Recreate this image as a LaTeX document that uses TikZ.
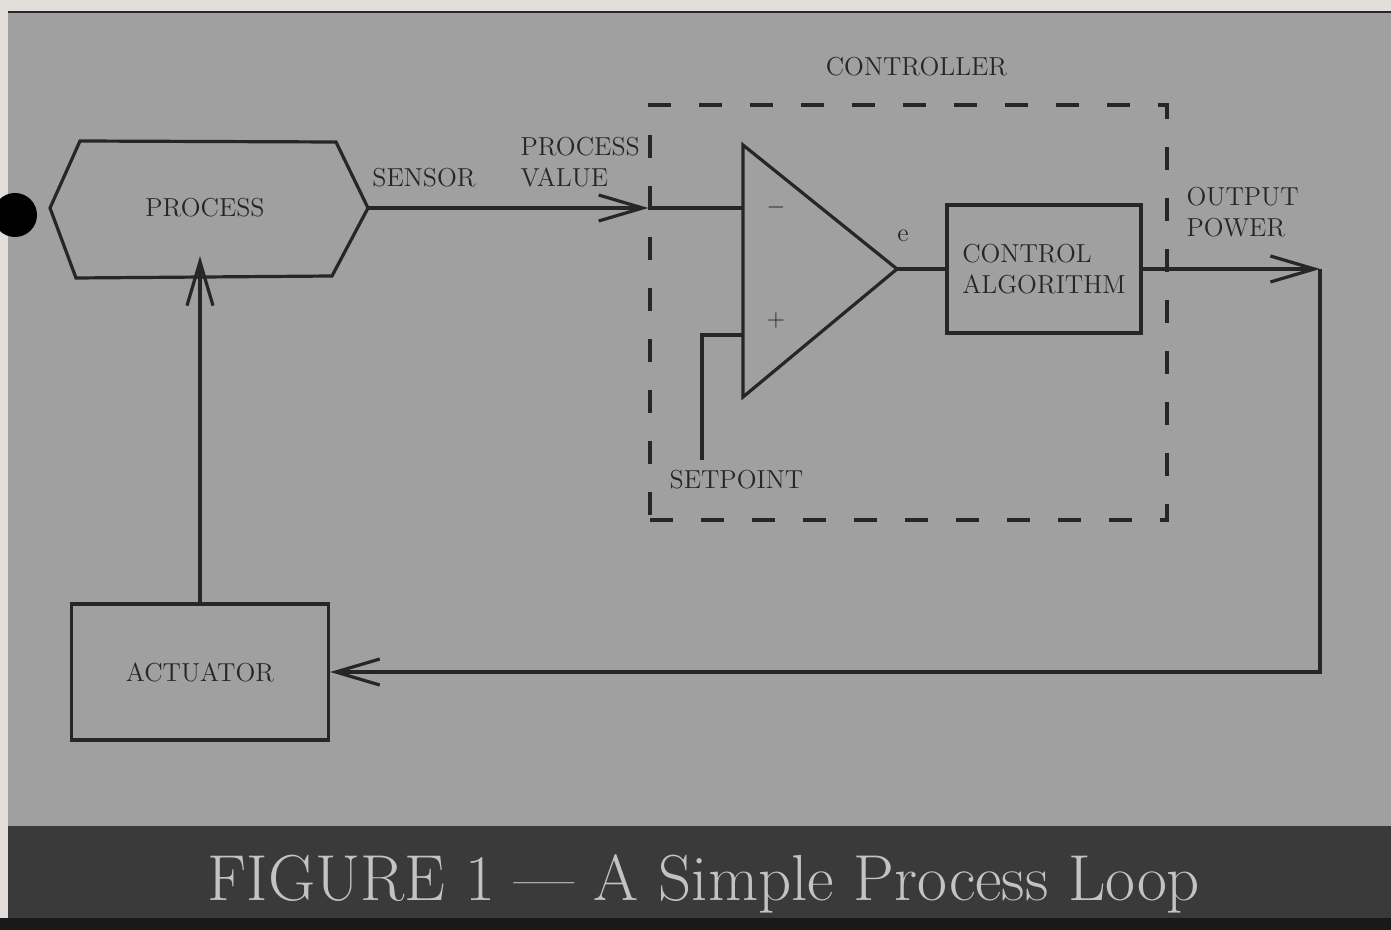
\documentclass[tikz,border=0pt]{standalone}
\usepackage{tikz}
\usetikzlibrary{arrows.meta,calc,positioning}

\definecolor{paper}{RGB}{226,223,219}
\definecolor{panel}{RGB}{160,160,160}
\definecolor{ink}{RGB}{38,38,38}
\definecolor{band}{RGB}{58,58,58}
\definecolor{captext}{RGB}{195,195,195}

\begin{document}
\begin{tikzpicture}[x=0.5pt, y=-0.5pt, color=ink, line width=1.6pt,
    >={Straight Barb[length=22pt,width=13pt]},
    tag/.style={font=\fontsize{13}{15.5}\selectfont, text=ink, inner sep=0pt},
    blockbox/.style={draw, tag, align=left},
    ctrlbox/.style={draw, line width=1.7pt, dash pattern=on 11.5pt off 14pt}]
    % --- Page and panel ---
    \useasboundingbox (0,0) rectangle (1391,930);
    \fill[paper] (0,0) rectangle (1391,930);
    \fill[panel] (8,12) rectangle (1391,826);
    \draw[line width=1.2pt] (8,12) -- (1391,12);
    \fill[band] (8,826) rectangle (1391,918);
    \fill[black!90] (0,918) rectangle (1391,930);
    \fill[black] (15,215) circle (22);

    % --- Process (hexagon) ---
    \node[tag] (process) at (205,208) {PROCESS};
    \coordinate (hexL) at (50,208);
    \coordinate (hexR) at (368,208);
    \draw (hexL) -- (80,141) -- (336,142) -- (hexR) -- (332,276) -- (76,278) -- cycle;

    % --- Controller ---
    \node[ctrlbox, minimum width=258.5pt, minimum height=207.5pt] (ctrl) at (908.5,312.5) {};
    \node[tag, above=13pt of ctrl.north, xshift=4pt] (ctrltag) {CONTROLLER};
    \coordinate (pvin) at (ctrl.west |- hexR);

    % --- Amplifier ---
    \coordinate (amptop) at (743,145);
    \coordinate (ampbot) at (743,397);
    \coordinate (amptip) at (897,269);
    \coordinate (ampminus) at (743,208);
    \coordinate (ampplus) at (743,335);
    \draw (amptop) -- (amptip) -- (ampbot) -- cycle;
    \node[tag] (minus) at (776,208) {$-$};
    \node[tag] (plus) at (776,321) {$+$};
    \node[tag] (err) at (903,236) {e};

    % --- Control algorithm and actuator ---
    \node[blockbox, minimum width=97pt, minimum height=64pt] (algo) at (1044,269) {CONTROL\\ALGORITHM};
    \node[blockbox, minimum width=128.5pt, minimum height=68pt] (actuator) at (200,672) {ACTUATOR};
    \coordinate (outpt) at (1320,269);
    \coordinate (setpt) at (702,460);

    % --- Signal lines ---
    \draw[->] (hexR) -- (pvin);
    \draw (pvin) -- (ampminus);
    \draw (amptip) -- (algo.west |- amptip);
    \draw[->] (algo.east |- outpt) -- (outpt);
    \draw[->] (outpt) |- (actuator.east);
    \draw[->] (actuator.north) -- (actuator.north |- 0,256);
    \draw (setpt) |- (ampplus);

    % --- Labels ---
    \node[tag] (sensor) at (424,178) {SENSOR};
    \node[tag, align=left, anchor=west] (pv) at (519,162) {PROCESS\\VALUE};
    \node[tag, align=left, anchor=west] (power) at (1185,212) {OUTPUT\\POWER};
    \node[tag, anchor=west] (setpoint) at (668,480) {SETPOINT};

    % --- Caption ---
    \node[text=captext, font=\fontsize{32.5}{36}\selectfont, inner sep=0pt] (caption) at (704,884)
        {FIGURE 1 --- A Simple Process Loop};
\end{tikzpicture}
\end{document}
